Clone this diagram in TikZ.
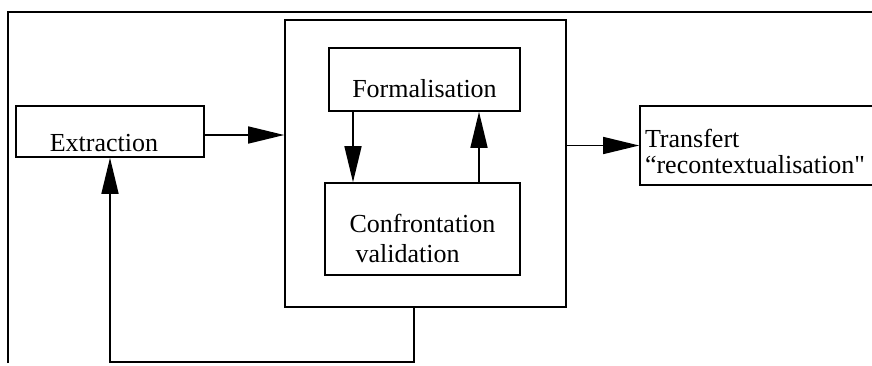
\documentclass[tikz,border=0pt]{standalone}
\usepackage{fontspec}
\setmainfont{Liberation Serif}
\usetikzlibrary{arrows.meta}

\begin{document}
\begin{tikzpicture}[x=.5pt,y=-.5pt,line width=.8pt,font=\fontsize{13pt}{15pt}\selectfont,
  box/.style={draw,rectangle,inner sep=2pt,text depth=0pt},
  arr/.style={-{Triangle[length=18pt,width=8.5pt]}},
  frameline/.style={line width=1pt}]
\clip (0,0) rectangle (872,365);
\draw[frameline] (8,363)--(8,12)--(880,12);
\node[box,minimum width=140.5pt,minimum height=143.5pt] (container) at (425.5,163.5) {};
\node[box,minimum width=94pt,minimum height=25.5pt,text height=19.5pt] (extraction) at (110,131.5) {Extraction\kern6pt};
\node[box,minimum width=95.5pt,minimum height=31.5pt,text height=17.5pt] (formal) at (424.5,79.5) {Formalisation};
\node[box,minimum width=97.5pt,minimum height=46pt,text height=33pt,align=left] (confront) at (422.5,229) {Confrontation\\\hspace*{3pt}validation};
\node[box,minimum width=120pt,minimum height=39.5pt,text height=14.5pt,text depth=13pt,align=left,text width=115pt,inner xsep=2.5pt] (transfert) at (760,145.5) {Transfert\\[-2pt]“recontextualisation\textquotedbl};
\draw[arr] ([yshift=-1.75pt]extraction.east)--([yshift=-1.75pt]extraction.east -| container.west);
\draw[arr] (container.east |- transfert.west)--(transfert.west);
\draw[arr] ([xshift=-35.75pt]formal.south)--([xshift=-35.75pt]formal.south |- confront.north);
\draw[arr] ([xshift=27.25pt]formal.south |- confront.north)--([xshift=27.25pt]formal.south);
\draw[arr] ([xshift=-5.75pt]container.south)--++(0,54)-|(extraction.south);
\end{tikzpicture}
\end{document}
